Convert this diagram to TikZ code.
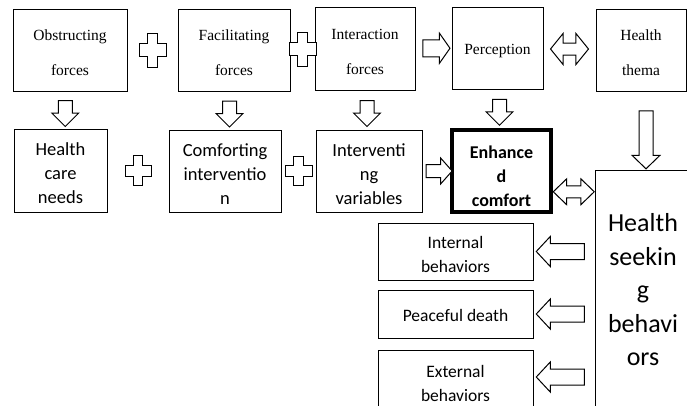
\documentclass[tikz,border=0pt]{standalone}
\usepackage{fontspec}
\setmainfont{Liberation Serif}
\newfontfamily\calibri{Carlito}
\usetikzlibrary{shapes.arrows,calc}

% outline of a plus sign, unit size
\tikzset{
  pics/plussign/.style={code={
    \draw[line width=1pt, fill=white] (-0.167,-0.5) -- (0.167,-0.5) -- (0.167,-0.19) -- (0.5,-0.19)
      -- (0.5,0.19) -- (0.167,0.19) -- (0.167,0.5) -- (-0.167,0.5) -- (-0.167,0.19)
      -- (-0.5,0.19) -- (-0.5,-0.19) -- (-0.167,-0.19) -- cycle;
  }}
}

\begin{document}
\begin{tikzpicture}[x=1pt,y=-1pt,
    box/.style={draw, line width=1pt, inner sep=0pt},
    toptext/.style={align=center, yshift=-3pt, font=\fontsize{15.5}{35}\selectfont},
    midtext/.style={align=center, yshift=-3pt, font=\calibri\fontsize{18.5}{24}\selectfont},
    lowtext/.style={align=center, yshift=-3pt, font=\calibri\fontsize{17.5}{24}\selectfont},
    topbox/.style={box, minimum height=82},
    midbox/.style={box, minimum height=82},
    lowbox/.style={box, minimum width=155},
    fat/.style={draw, line width=1pt, fill=white, inner sep=#1},
    downarr/.style={fat=6.5pt, single arrow, shape border rotate=270,
      single arrow head extend=6.5pt, minimum height=26},
    leftarr/.style={fat=7.5pt, single arrow, shape border rotate=180,
      single arrow head extend=7pt, single arrow tip angle=94, minimum height=48}]
  \useasboundingbox (0,0) rectangle (687,405);
  \clip (0,0) rectangle (687,405);

  % top row
  \node[topbox, minimum width=114, label={[toptext]center:Obstructing\\forces}] (obst) at (70,50) {};
  \node[topbox, minimum width=112, label={[toptext]center:Facilitating\\forces}] (faci) at (234,50) {};
  \node[topbox, minimum width=100, minimum height=83,
    label={[toptext]center:Interaction\\forces}] (inter) at (365,48.5) {};
  \node[topbox, minimum width=91, label={[toptext]center:Perception}] (perc) at (497.5,48) {};
  \node[topbox, minimum width=90, label={[toptext]center:Health\\thema}] (thema) at (641,50) {};

  % second row
  \node[midbox, minimum width=93, minimum height=83,
    label={[midtext]center:Health\\care\\needs}] (hcn) at (60.5,170.5) {};
  \node[midbox, minimum width=112, label={[midtext]center:Comforting\\interventio\\n}] (comf) at (225,171) {};
  \node[midbox, minimum width=106, label={[midtext]center:Interventi\\ng\\variables}] (intv) at (369,171) {};
  \node[midbox, minimum width=99, line width=4pt,
    label={[midtext, yshift=-2.5pt, font=\calibri\bfseries\fontsize{18}{24}\selectfont]center:Enhance\\d\\comfort}]
    (enh) at (501.5,171) {};
  \node[box, minimum width=96, minimum height=240, align=center,
    font=\calibri\fontsize{26}{33.5}\selectfont] (hsb) at (643,290) {Health\\seekin\\g\\behavi\\ors};

  % outcomes
  \node[lowbox, minimum height=57, label={[lowtext]center:Internal\\behaviors}] (intb) at (455.5,251.5) {};
  \node[lowbox, minimum height=48, label={[lowtext, yshift=2pt]center:Peaceful death}] (peace) at (455.5,314) {};
  \node[lowbox, minimum height=60, label={[lowtext]center:External\\behaviors}] (extb) at (455.5,380) {};

  % plus signs
  \pic[xscale=27, yscale=34] at ($(obst.east)!0.5!(faci.west)$) {plussign};
  \pic[xscale=27, yscale=34] at ($(faci.east)!0.5!(inter.west)$) {plussign};
  \pic[xscale=26, yscale=30] at ($(hcn.east)!0.5!(comf.west)$) {plussign};
  \pic[xscale=27, yscale=29] at ($(comf.east)!0.5!(intv.west)$) {plussign};

  % block arrows
  \node[fat=8pt, single arrow, single arrow head extend=6.5pt, single arrow tip angle=110,
    minimum height=27] (a1) at ($(inter.east)!0.5!(perc.west)$) {};
  \node[fat=5.5pt, double arrow, double arrow head extend=9.5pt, double arrow tip angle=102,
    minimum height=38] (a2) at ($(perc.east)!0.5!(thema.west)$) {};
  \node[downarr] (d1) at ($(obst.south)!0.5!(hcn.north)$) {};
  \node[downarr] (d2) at ($(faci.south)!0.5!(comf.north)$) {};
  \node[downarr] (d3) at ($(inter.south)!0.5!(intv.north)$) {};
  \node[downarr] (d4) at ($(perc.south)!0.5!(enh.north)$) {};
  \node[fat=6pt, single arrow, single arrow head extend=6.5pt, single arrow tip angle=97,
    minimum height=26] (a3) at ($(intv.east)!0.5!(enh.west)$) {};
  \node[fat=5.5pt, double arrow, double arrow head extend=7pt, double arrow tip angle=88,
    minimum height=41] (a4) at ($(enh.south east)!0.5!(hsb.north west)$) {};
  \node[fat=6.5pt, single arrow, shape border rotate=270, single arrow head extend=7pt,
    single arrow tip angle=92, minimum height=58, anchor=tip] (d5)
    at ([xshift=5]thema.south |- hsb.north) {};
  \node[leftarr] (l1) at ($(intb.east)!0.5!(intb.east -| hsb.west)$) {};
  \node[leftarr] (l2) at ($(peace.east)!0.5!(peace.east -| hsb.west)$) {};
  \node[leftarr] (l3) at ([yshift=3]$(extb.east)!0.5!(extb.east -| hsb.west)$) {};
\end{tikzpicture}
\end{document}
